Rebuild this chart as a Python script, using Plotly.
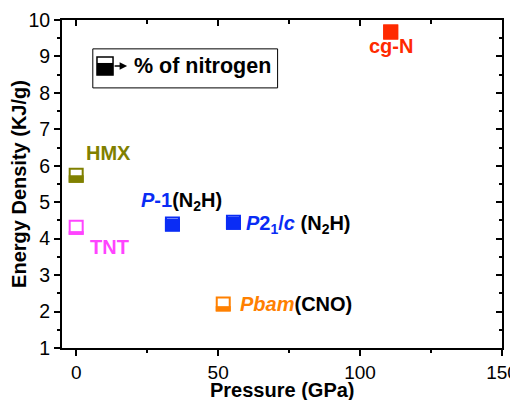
import plotly.graph_objects as go

names = ["HMX", "TNT", "P-1", "P21/c", "Pbam", "cg-N"]
pressure = [0, 0, 33.9, 55.4, 51.8, 110.8]
energy = [5.74, 4.31, 4.40, 4.45, 2.21, 9.67]
nitrogen_frac = [0.5, 0.25, 0.85, 0.85, 0.35, 1.0]
colors = ["#808000", "#ff44ff", "#0a2cf5", "#0a2cf5", "#ff8000", "#ff2a00"]

labels = [
    "<b>HMX</b>",
    "<b>TNT</b>",
    "<b><i>P</i>-1<span style='color:black'>(N<sub>2</sub>H)</span></b>",
    "<b><i>P</i>2<sub>1</sub>/<i>c</i> <span style='color:black'>(N<sub>2</sub>H)</span></b>",
    "<b><i>Pbam</i><span style='color:black'>(CNO)</span></b>",
    "<b>cg-N</b>",
]
label_x = [2.7, 4.0, 37.0, 59.0, 57.0, 111.0]
label_y = [6.35, 3.78, 5.03, 4.4, 2.21, 9.3]
label_anchor = ["left", "left", "center", "left", "left", "center"]

FONT = "Liberation Sans, Arial, sans-serif"

fig = go.Figure()
fig.add_trace(go.Scatter(
    x=pressure, y=energy, mode="markers",
    marker=dict(symbol="square", size=13, color="white",
                line=dict(color=colors, width=2)),
    showlegend=False, hoverinfo="skip"))
# dummy trace for the mirrored (top/right) axes
fig.add_trace(go.Scatter(x=[None], y=[None], xaxis="x2", yaxis="y2",
                         showlegend=False, hoverinfo="skip"))

shapes = []
half = 7.5
for px, en, fr, c in zip(pressure, energy, nitrogen_frac, colors):
    shapes.append(dict(type="rect", xref="x", yref="y",
                       xsizemode="pixel", ysizemode="pixel",
                       xanchor=px, yanchor=en,
                       x0=-half, x1=half, y0=-half, y1=-half + 2 * half * fr,
                       fillcolor=c, line=dict(width=0), layer="above"))

# legend-like key box
shapes.append(dict(type="rect", xref="paper", yref="paper",
                   x0=0.070, x1=0.490, y0=0.793, y1=0.912,
                   line=dict(color="black", width=1), fillcolor="rgba(0,0,0,0)"))
shapes.append(dict(type="rect", xref="paper", yref="paper",
                   x0=0.0795, x1=0.116, y0=0.832, y1=0.887,
                   line=dict(color="black", width=1.5), fillcolor="white"))
shapes.append(dict(type="rect", xref="paper", yref="paper",
                   x0=0.0795, x1=0.116, y0=0.832, y1=0.869,
                   line=dict(color="black", width=0), fillcolor="black"))

annotations = []
for t, lx, ly, anc, c in zip(labels, label_x, label_y, label_anchor, colors):
    annotations.append(dict(x=lx, y=ly, xref="x", yref="y", text=t,
                            showarrow=False, xanchor=anc, yanchor="middle",
                            font=dict(family=FONT, size=20, color=c)))
annotations.append(dict(x=0.148, y=0.860, xref="paper", yref="paper", text="",
                        showarrow=True, ax=-14, ay=0, arrowhead=2, arrowsize=1,
                        arrowwidth=1.5, arrowcolor="black"))
annotations.append(dict(x=0.158, y=0.860, xref="paper", yref="paper",
                        text="<b>% of nitrogen</b>", showarrow=False,
                        xanchor="left", yanchor="middle",
                        font=dict(family=FONT, size=21.5, color="black")))
# x-axis title
annotations.append(dict(x=0.5, y=-0.128, xref="paper", yref="paper",
                        text="<b>Pressure (GPa)</b>", showarrow=False,
                        xanchor="center", yanchor="middle",
                        font=dict(family=FONT, size=20, color="black")))

axis_common = dict(showgrid=False, zeroline=False, showline=True,
                   linecolor="black", linewidth=2, automargin=False)

fig.update_layout(
    width=510, height=392,
    margin=dict(l=54, r=16, t=12, b=52),
    paper_bgcolor="white", plot_bgcolor="white",
    font=dict(family=FONT, size=19, color="black"),
    xaxis=dict(range=[-5, 150], tickvals=[0, 50, 100, 150],
               ticks="outside", ticklen=6, tickwidth=2, tickcolor="black",
               minor=dict(tickvals=[25, 75, 125], ticks="outside", ticklen=3,
                          tickwidth=2, tickcolor="black"),
               tickfont=dict(family=FONT, size=19),
               ticklabeloverflow="allow",
               tickprefix="<b>", ticksuffix="</b>",
               **axis_common),
    yaxis=dict(range=[1, 10], tickvals=list(range(1, 11)),
               ticks="outside", ticklen=6, tickwidth=2, tickcolor="black",
               minor=dict(tickvals=[x + 0.5 for x in range(1, 10)], ticks="outside",
                          ticklen=3, tickwidth=2, tickcolor="black"),
               tickfont=dict(family=FONT, size=19.5),
               ticklabeloverflow="allow",
               tickprefix="<b>", ticksuffix="</b>",
               title=dict(text="<b>Energy Density (KJ/g)</b>", standoff=4,
                          font=dict(family=FONT, size=20)),
               **axis_common),
    xaxis2=dict(range=[-5, 150], overlaying="x", side="top", anchor="y2",
                tickvals=[0, 50, 100, 150], ticks="inside", ticklen=6,
                tickwidth=2, tickcolor="black", showticklabels=False,
                minor=dict(tickvals=[25, 75, 125], ticks="inside", ticklen=4,
                           tickwidth=2, tickcolor="black"),
                **axis_common),
    yaxis2=dict(range=[1, 10], overlaying="y", side="right", anchor="x2",
                tickvals=list(range(1, 11)), ticks="inside", ticklen=6,
                tickwidth=2, tickcolor="black", showticklabels=False,
                minor=dict(tickvals=[x + 0.5 for x in range(1, 10)], ticks="inside",
                           ticklen=3, tickwidth=2, tickcolor="black"),
                **axis_common),
    shapes=shapes,
    annotations=annotations,
)

fig.write_html("out.html")
